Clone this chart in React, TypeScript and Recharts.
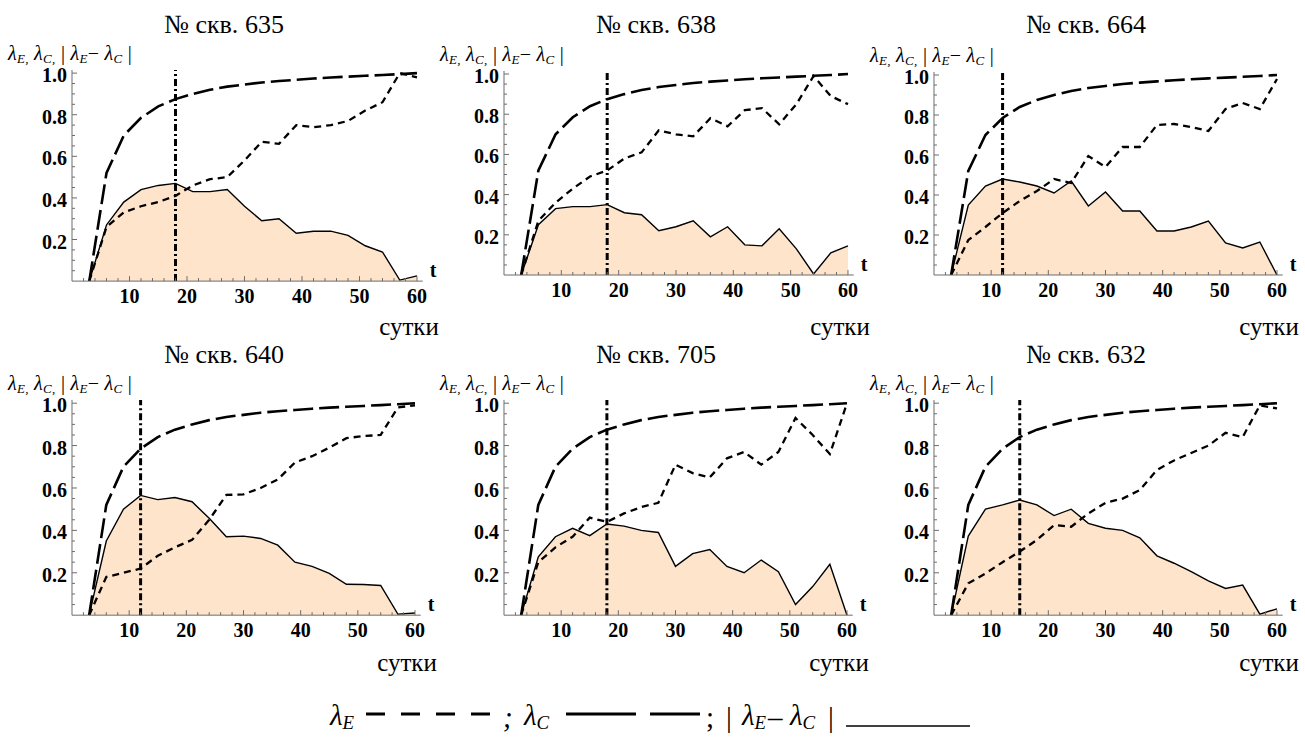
import React from 'react';
import { ComposedChart, Area, Line, XAxis, YAxis, ReferenceLine } from 'recharts';

// sampling days (every 3 days)
const days = [3, 6, 9, 12, 15, 18, 21, 24, 27, 30, 33, 36, 39, 42, 45, 48, 51, 54, 57, 60];

// λC – same curve on every panel
const lambdaC = [0, 0.52, 0.7, 0.785, 0.84, 0.875, 0.9, 0.92, 0.935, 0.945, 0.955, 0.962, 0.968, 0.974, 0.979, 0.983, 0.987, 0.991, 0.995, 1.0];

// λE and |λE − λC| per well
const e635 = [0, 0.26, 0.33, 0.36, 0.38, 0.41, 0.46, 0.49, 0.5, 0.58, 0.67, 0.66, 0.75, 0.74, 0.75, 0.77, 0.82, 0.86, 1.0, 0.98];
const d635 = [0, 0.27, 0.38, 0.44, 0.46, 0.47, 0.43, 0.43, 0.44, 0.36, 0.29, 0.3, 0.23, 0.24, 0.24, 0.22, 0.17, 0.14, 0.005, 0.025];

const e638 = [0, 0.27, 0.36, 0.43, 0.49, 0.52, 0.58, 0.61, 0.72, 0.7, 0.69, 0.78, 0.74, 0.82, 0.83, 0.75, 0.85, 0.99, 0.89, 0.85];
const d638 = [0, 0.25, 0.33, 0.34, 0.34, 0.35, 0.31, 0.3, 0.22, 0.24, 0.27, 0.19, 0.24, 0.15, 0.145, 0.23, 0.13, 0.005, 0.11, 0.145];

const e664 = [0, 0.175, 0.24, 0.31, 0.37, 0.42, 0.48, 0.46, 0.595, 0.54, 0.64, 0.64, 0.75, 0.755, 0.74, 0.72, 0.83, 0.86, 0.83, 0.98];
const d664 = [0, 0.35, 0.445, 0.48, 0.465, 0.445, 0.41, 0.47, 0.345, 0.415, 0.32, 0.32, 0.22, 0.22, 0.24, 0.27, 0.16, 0.135, 0.165, 0.0];

const e640 = [0, 0.18, 0.2, 0.22, 0.28, 0.32, 0.355, 0.45, 0.567, 0.57, 0.6, 0.64, 0.72, 0.75, 0.79, 0.835, 0.845, 0.85, 0.98, 0.99];
const d640 = [0, 0.35, 0.5, 0.565, 0.545, 0.555, 0.535, 0.457, 0.37, 0.373, 0.362, 0.33, 0.25, 0.23, 0.197, 0.146, 0.145, 0.14, 0.005, 0.01];

const e705 = [0, 0.25, 0.32, 0.37, 0.46, 0.44, 0.48, 0.51, 0.53, 0.71, 0.67, 0.65, 0.74, 0.77, 0.71, 0.77, 0.93, 0.85, 0.76, 1.0];
const d705 = [0, 0.275, 0.37, 0.41, 0.375, 0.43, 0.42, 0.4, 0.39, 0.23, 0.29, 0.31, 0.23, 0.2, 0.26, 0.205, 0.05, 0.135, 0.24, 0.0];

const e632 = [0, 0.15, 0.197, 0.25, 0.3, 0.355, 0.425, 0.417, 0.48, 0.53, 0.55, 0.59, 0.685, 0.73, 0.765, 0.8, 0.86, 0.84, 0.99, 0.975];
const d632 = [0, 0.373, 0.5, 0.52, 0.543, 0.52, 0.47, 0.5, 0.433, 0.41, 0.4, 0.365, 0.28, 0.245, 0.205, 0.162, 0.126, 0.142, 0.005, 0.03];

// ticks
const xTicks = [2, 4, 6, 8, 10, 12, 14, 16, 18, 20, 22, 24, 26, 28, 30, 32, 34, 36, 38, 40, 42, 44, 46, 48, 50, 52, 54, 56, 58, 60];
const xMajor = [10, 20, 30, 40, 50, 60];
const yTicks = [0.05, 0.1, 0.15, 0.2, 0.25, 0.3, 0.35, 0.4, 0.45, 0.5, 0.55, 0.6, 0.65, 0.7, 0.75, 0.8, 0.85, 0.9, 0.95, 1.0];
const yMajor = [0.2, 0.4, 0.6, 0.8, 1.0];

const AXIS = '#6b6b6b';
const FILL = '#fde4cb';
const FONT = '"Liberation Serif", "Times New Roman", serif';

// layout of each panel in page pixels (y-axis x, x=60 pixel, y=0 pixel, y=1 pixel)
const panels = [
  { well: '635', e: e635, d: d635, mark: 18, ox: 72, x60: 417, y0: 281, y1: 73, titleY: 25, unitY: 326 },
  { well: '638', e: e638, d: d638, mark: 18, ox: 504, x60: 848, y0: 275, y1: 74, titleY: 25, unitY: 326 },
  { well: '664', e: e664, d: d664, mark: 12, ox: 934, x60: 1277, y0: 275, y1: 75, titleY: 25, unitY: 326 },
  { well: '640', e: e640, d: d640, mark: 12, ox: 72, x60: 415, y0: 615, y1: 403, titleY: 355, unitY: 662 },
  { well: '705', e: e705, d: d705, mark: 18, ox: 504, x60: 847, y0: 615, y1: 403, titleY: 355, unitY: 662 },
  { well: '632', e: e632, d: d632, mark: 15, ox: 934, x60: 1277, y0: 615, y1: 403, titleY: 355, unitY: 662 },
];

const X_MAX = 61;
const Y_MAX = 1.015;
const M = { top: 10, right: 30, bottom: 39, left: 59 };

const XTick = (props: any) => {
  const { x, y, payload } = props;
  const major = xMajor.includes(payload.value);
  return (
    <g>
      <line x1={x} x2={x} y1={y} y2={y - (major ? 5 : 3)} stroke={AXIS} strokeWidth={1} />
      {major && (
        <text x={x} y={y + 15} textAnchor="middle" dominantBaseline="central"
          style={{ fontFamily: FONT, fontWeight: 700, fontSize: 20 }} fill="#000">
          {payload.value}
        </text>
      )}
    </g>
  );
};

const YTick = (props: any) => {
  const { x, y, payload } = props;
  const major = yMajor.some(v => Math.abs(v - payload.value) < 1e-6);
  return (
    <g>
      <line x1={x} x2={x + (major ? 5 : 3)} y1={y} y2={y} stroke={AXIS} strokeWidth={1} />
      {major && (
        <text x={x - 5} y={y + 2} textAnchor="end" dominantBaseline="central"
          style={{ fontFamily: FONT, fontWeight: 700, fontSize: 20 }} fill="#000">
          {payload.value.toFixed(1)}
        </text>
      )}
    </g>
  );
};

const Lam = ({ s }: { s: string }) => (
  <span style={{ fontStyle: 'italic' }}>
    λ<span style={{ fontSize: '0.65em', verticalAlign: '-0.2em' }}>{s}</span>
  </span>
);

function Panel({ p }: { p: typeof panels[number] }) {
  const plotW = (p.x60 - p.ox) * X_MAX / 60;
  const plotH = (p.y0 - p.y1) * Y_MAX;
  const plotTop = p.y0 - plotH;
  const data = days.map((t, i) => ({ t, c: lambdaC[i], e: p.e[i], d: p.d[i] }));
  return (
    <>
      <div style={{ position: 'absolute', left: p.ox + 152, top: p.titleY, transform: 'translate(-50%, -50%)', fontSize: 26, whiteSpace: 'nowrap', lineHeight: 1 }}>
        № скв. {p.well}
      </div>
      <div style={{ position: 'absolute', left: p.ox - 64, top: p.y1 - 19, transform: 'translateY(-50%)', fontSize: 20, whiteSpace: 'nowrap', lineHeight: 1, letterSpacing: 0.3 }}>
        <Lam s="E," /> <Lam s="C," /> | <Lam s="E" />− <Lam s="C" /> |
      </div>
      <div style={{ position: 'absolute', left: p.x60 + 16, top: p.y0 - 11, transform: 'translate(-50%, -50%)', fontSize: 20, fontWeight: 'bold', lineHeight: 1 }}>
        t
      </div>
      <div style={{ position: 'absolute', left: p.x60 - 8, top: p.unitY, transform: 'translate(-50%, -50%)', fontSize: 25, lineHeight: 1 }}>
        сутки
      </div>
      <div style={{ position: 'absolute', left: p.ox - M.left - 1, top: plotTop - M.top }}>
        <ComposedChart width={M.left + 1 + plotW + M.right} height={M.top + plotH + 1 + M.bottom} data={data} margin={M}>
          <XAxis dataKey="t" type="number" domain={[0, X_MAX]} ticks={xTicks} interval={0}
            allowDataOverflow height={1} tickSize={0} tickMargin={0}
            axisLine={{ stroke: AXIS, strokeWidth: 1 }} tickLine={false} tick={<XTick />} />
          <YAxis type="number" domain={[0, Y_MAX]} ticks={yTicks} interval={0}
            allowDataOverflow width={1} tickSize={0} tickMargin={0}
            axisLine={{ stroke: AXIS, strokeWidth: 1 }} tickLine={false} tick={<YTick />} />
          <Area type="linear" dataKey="d" stroke="#000" strokeWidth={1.4} fill={FILL} fillOpacity={1}
            dot={false} activeDot={false} isAnimationActive={false} />
          <Line type="linear" dataKey="e" stroke="#000" strokeWidth={2.3} strokeDasharray="7 5"
            dot={false} activeDot={false} isAnimationActive={false} />
          <Line type="linear" dataKey="c" stroke="#000" strokeWidth={2.6} strokeDasharray="20 6"
            dot={false} activeDot={false} isAnimationActive={false} />
          <ReferenceLine x={p.mark} stroke="#000" strokeWidth={3} strokeDasharray="7 3 2 3" />
        </ComposedChart>
      </div>
    </>
  );
}

const legendText: React.CSSProperties = { position: 'absolute', top: 717, transform: 'translateY(-50%)', fontSize: 29, lineHeight: 1, whiteSpace: 'nowrap' };

export default function App() {
  return (
    <div style={{ position: 'absolute', left: 0, top: 0, width: 1305, height: 747, background: '#fff', fontFamily: FONT, color: '#000' }}>
      {panels.map(p => <Panel key={p.well} p={p} />)}
      <div style={{ ...legendText, left: 330 }}><Lam s="E" /></div>
      <svg style={{ position: 'absolute', left: 366, top: 708 }} width={126} height={12}>
        <line x1={0} x2={126} y1={6} y2={6} stroke="#000" strokeWidth={3} strokeDasharray="19 16" />
      </svg>
      <div style={{ ...legendText, left: 503 }}><span style={{ fontStyle: 'italic' }}>;</span></div>
      <div style={{ ...legendText, left: 524 }}><Lam s="C" /></div>
      <svg style={{ position: 'absolute', left: 566, top: 708 }} width={134} height={12}>
        <line x1={0} x2={134} y1={6} y2={6} stroke="#000" strokeWidth={3} strokeDasharray="70 14" />
      </svg>
      <div style={{ ...legendText, left: 706 }}>;</div>
      <div style={{ ...legendText, left: 726 }}>|</div>
      <div style={{ ...legendText, left: 742 }}><Lam s="E" /></div>
      <div style={{ ...legendText, left: 768 }}>–</div>
      <div style={{ ...legendText, left: 790 }}><Lam s="C" /></div>
      <div style={{ ...legendText, left: 828 }}>|</div>
      <svg style={{ position: 'absolute', left: 846, top: 720 }} width={124} height={12}>
        <line x1={0} x2={124} y1={6} y2={6} stroke="#000" strokeWidth={1.5} />
      </svg>
    </div>
  );
}
